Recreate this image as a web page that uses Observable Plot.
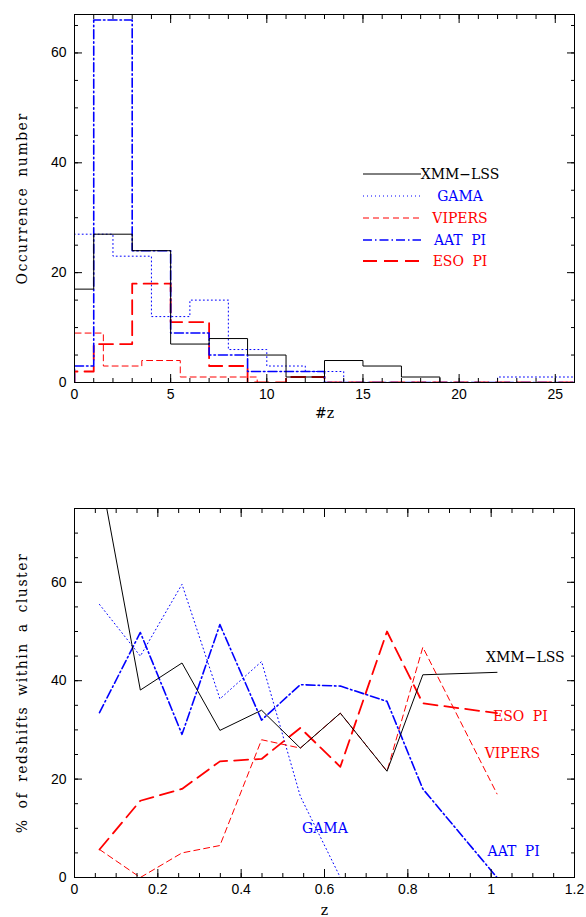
<!DOCTYPE html>
<html><head><meta charset="utf-8">
<script src="https://cdn.jsdelivr.net/npm/d3@7"></script>
<script src="https://cdn.jsdelivr.net/npm/@observablehq/plot@0.6"></script>
<style>
html,body{margin:0;padding:0;background:#fff;}
#wrap{position:relative;width:586px;height:917px;overflow:hidden;}
#top,#bottom,#legend{position:absolute;left:0;}
#top{top:0}
#bottom{top:440px}
#legend{top:0;pointer-events:none}
svg text{word-spacing:4px}
</style></head><body>
<div id="wrap"><div id="top"></div><div id="bottom"></div><svg id="legend" width="586" height="440"></svg></div>
<script>
// ---------- Top panel: histograms of number of redshifts per cluster (#z) ----------
const xmmEdges    = [0, 1, 3, 5, 7, 9, 11, 13, 15, 17, 19, 26];
const xmmCounts   = [17, 27, 24, 7, 8, 5, 1, 4, 3, 1, 0];
const gamaEdges   = [0, 2, 4, 6, 8, 10, 12, 14, 22, 26];
const gamaCounts  = [27, 23, 12, 15, 6, 3, 2, 0, 1];
const vipersEdges = [0, 1.5, 3.5, 5.5, 9.5, 26];
const vipersCounts= [9, 3, 4, 1, 0];
const aatEdges    = [0, 1, 3, 5, 7, 9, 13, 26];
const aatCounts   = [3, 66, 24, 9, 5, 2, 0];
const esoEdges    = [0, 1, 3, 5, 7, 9, 11, 13, 26];
const esoCounts   = [2, 7, 18, 11, 3, 0, 1, 0];

// ---------- Bottom panel: % of redshifts within a cluster vs z ----------
const zBins     = [0.06, 0.158, 0.258, 0.349, 0.449, 0.542, 0.638, 0.75, 0.836, 1.014];
const xmmPct    = [83, 38.1, 43.6, 29.9, 34.0, 26.3, 33.4, 21.6, 41.2, 41.7];
const gamaPct   = [55.5, 45.0, 59.6, 36.3, 43.9, 16.5, 0, 0, 0, 0];
const vipersPct = [5.7, 0, 5.0, 6.5, 28.0, 26.3, 33.4, 21.6, 46.8, 17.0];
const aatPct    = [33.5, 49.8, 29.1, 51.4, 32.0, 39.2, 38.9, 35.8, 18.0, 0];
const esoPct    = [5.7, 15.6, 18.0, 23.6, 24.1, 30.4, 22.5, 50.0, 35.4, 33.4];

const seriesNames = ["XMM\u2212LSS", "GAMA", "VIPERS", "AAT PI", "ESO PI"];

// Tick values
const topXMajor = [0, 5, 10, 15, 20, 25];
const topYMajor = [0, 20, 40, 60];
const botXMajor = [0, 0.2, 0.4, 0.6, 0.8, 1, 1.2];
const botYMajor = [0, 20, 40, 60];

// direct labels in bottom panel (data coordinates)
const botLabelText = ["XMM\u2212LSS", "ESO PI", "VIPERS", "GAMA", "AAT PI"];
const botLabelX    = [1.082, 1.070, 1.051, 0.601, 1.054];
const botLabelY    = [44.7, 32.7, 25.2, 10.0, 5.3];

// ---------- styles ----------
const styleOf = {
  "XMM\u2212LSS": {stroke: "#000000", strokeWidth: 1,   dash: null},
  "GAMA":        {stroke: "#0000ff", strokeWidth: 1,   dash: "1,3"},
  "VIPERS":      {stroke: "#ff0000", strokeWidth: 1,   dash: "6,4"},
  "AAT PI":      {stroke: "#0000ff", strokeWidth: 1.6, dash: "9,3,1.5,3"},
  "ESO PI":      {stroke: "#ff0000", strokeWidth: 1.8, dash: "14,7"}
};
const labelColor = ["#000000", "#ff0000", "#ff0000", "#0000ff", "#0000ff"];
const SERIF = "'DejaVu Serif', 'Liberation Serif', serif";
const SANS = "'Liberation Sans', Arial, sans-serif";

function stepPoints(edges, counts) {
  const pts = [{x: edges[0], y: 0}];
  counts.forEach((c, i) => pts.push({x: edges[i], y: c}));
  pts.push({x: edges[edges.length - 1], y: counts[counts.length - 1]});
  return pts;
}
const topSeries = {
  "GAMA": stepPoints(gamaEdges, gamaCounts),
  "VIPERS": stepPoints(vipersEdges, vipersCounts),
  "ESO PI": stepPoints(esoEdges, esoCounts),
  "AAT PI": stepPoints(aatEdges, aatCounts),
  "XMM\u2212LSS": stepPoints(xmmEdges, xmmCounts)
};
const botSeries = {
  "GAMA": gamaPct, "VIPERS": vipersPct, "ESO PI": esoPct, "AAT PI": aatPct, "XMM\u2212LSS": xmmPct
};

function frameTicks(xMaj, xMin, yMaj, yMin, xFmt, yFmt) {
  const blank = () => "";
  return [
    Plot.axisX(xMin, {anchor: "bottom", tickSize: -4, tickFormat: blank, label: null}),
    Plot.axisX(xMin, {anchor: "top", tickSize: -4, tickFormat: blank, label: null}),
    Plot.axisX(xMaj, {anchor: "bottom", tickSize: -8, tickFormat: blank, label: null}),
    Plot.axisX(xMaj, {anchor: "top", tickSize: -8, tickFormat: blank, label: null}),
    Plot.axisY(yMin, {anchor: "left", tickSize: -4, tickFormat: blank, label: null}),
    Plot.axisY(yMin, {anchor: "right", tickSize: -4, tickFormat: blank, label: null}),
    Plot.axisY(yMaj, {anchor: "left", tickSize: -8, tickFormat: blank, label: null}),
    Plot.axisY(yMaj, {anchor: "right", tickSize: -8, tickFormat: blank, label: null}),
    Plot.axisX(xMaj, {anchor: "bottom", tickSize: 0, tickPadding: 7, tickFormat: xFmt, label: null, fontFamily: SANS, fontSize: 14}),
    Plot.axisY(yMaj, {anchor: "left", tickSize: 0, tickPadding: 8, tickFormat: yFmt, label: null, fontFamily: SANS, fontSize: 14})
  ];
}

// ---------- top chart ----------
const topMarks = [];
for (const name of Object.keys(topSeries)) {
  const s = styleOf[name];
  topMarks.push(Plot.line(topSeries[name], {
    x: "x", y: "y", curve: "step-after", stroke: s.stroke, strokeWidth: s.strokeWidth,
    strokeDasharray: s.dash ?? undefined, clip: true
  }));
}
const topPlot = Plot.plot({
  width: 586, height: 440,
  marginLeft: 74, marginRight: 12, marginTop: 14, marginBottom: 58,
  x: {domain: [0, 26], axis: null, label: null},
  y: {domain: [0, 67], axis: null, label: null},
  style: {fontFamily: SANS, fontSize: "14px", background: "transparent", color: "black", overflow: "visible"},
  marks: [
    ...topMarks,
    ...frameTicks(topXMajor, d3.range(0, 27, 1), topYMajor, d3.range(0, 68, 5), d => String(d), d => String(d)),
    Plot.frame({stroke: "black"}),
    Plot.text(["Occurrence number"], {frameAnchor: "left", textAnchor: "middle", lineAnchor: "middle", rotate: -90, dx: -52, fontFamily: SERIF, fontSize: 14}),
    Plot.text(["#z"], {frameAnchor: "bottom", textAnchor: "middle", lineAnchor: "middle", dy: 31, fontFamily: SERIF, fontSize: 14})
  ]
});
document.getElementById("top").appendChild(topPlot);

// ---------- bottom chart ----------
const botMarks = [];
for (const name of Object.keys(botSeries)) {
  const s = styleOf[name];
  const pts = zBins.map((z, i) => ({x: z, y: botSeries[name][i]}));
  botMarks.push(Plot.line(pts, {
    x: "x", y: "y", stroke: s.stroke, strokeWidth: s.strokeWidth,
    strokeDasharray: s.dash ?? undefined, clip: true
  }));
}
const botLabels = botLabelText.map((t, i) => ({t, x: botLabelX[i], y: botLabelY[i], c: labelColor[i]}));
const botPlot = Plot.plot({
  width: 586, height: 477,
  marginLeft: 74, marginRight: 12, marginTop: 68, marginBottom: 40,
  x: {domain: [0, 1.2], axis: null, label: null},
  y: {domain: [0, 75], axis: null, label: null},
  style: {fontFamily: SANS, fontSize: "14px", background: "transparent", color: "black", overflow: "visible"},
  marks: [
    ...botMarks,
    ...frameTicks(botXMajor, d3.range(0, 25).map(i => i / 20), botYMajor, d3.range(0, 76, 5), d => String(d), d => String(d)),
    Plot.frame({stroke: "black"}),
    Plot.text(botLabels, {x: "x", y: "y", text: "t", fill: "c", fontFamily: SERIF, fontSize: 14}),
    Plot.text(["% of redshifts within a cluster"], {frameAnchor: "left", textAnchor: "middle", lineAnchor: "middle", rotate: -90, dx: -52, fontFamily: SERIF, fontSize: 14}),
    Plot.text(["z"], {frameAnchor: "bottom", textAnchor: "middle", lineAnchor: "middle", dy: 33, fontFamily: SERIF, fontSize: 14})
  ]
});
document.getElementById("bottom").appendChild(botPlot);

// axis titles: widen spacing like the original
for (const svg of [topPlot, botPlot]) {
  d3.select(svg).selectAll("text").filter(function () {
    const t = this.textContent;
    return t === "Occurrence number" || t === "% of redshifts within a cluster";
  }).style("letter-spacing", "1.5px");
}

// ---------- legend (top panel) ----------
const legendRowsY = [174, 196, 218, 240, 261];
const lg = d3.select("#legend");
seriesNames.forEach((name, i) => {
  const s = styleOf[name];
  lg.append("line").attr("x1", 363).attr("x2", 421).attr("y1", legendRowsY[i]).attr("y2", legendRowsY[i])
    .attr("stroke", s.stroke).attr("stroke-width", s.strokeWidth)
    .attr("stroke-dasharray", s.dash);
  lg.append("text").attr("x", 460).attr("y", legendRowsY[i]).attr("dy", "0.35em")
    .attr("text-anchor", "middle").attr("fill", s.stroke)
    .style("font-family", SERIF).style("font-size", "14px").style("word-spacing", "4px")
    .text(name);
});
</script>
</body></html>
